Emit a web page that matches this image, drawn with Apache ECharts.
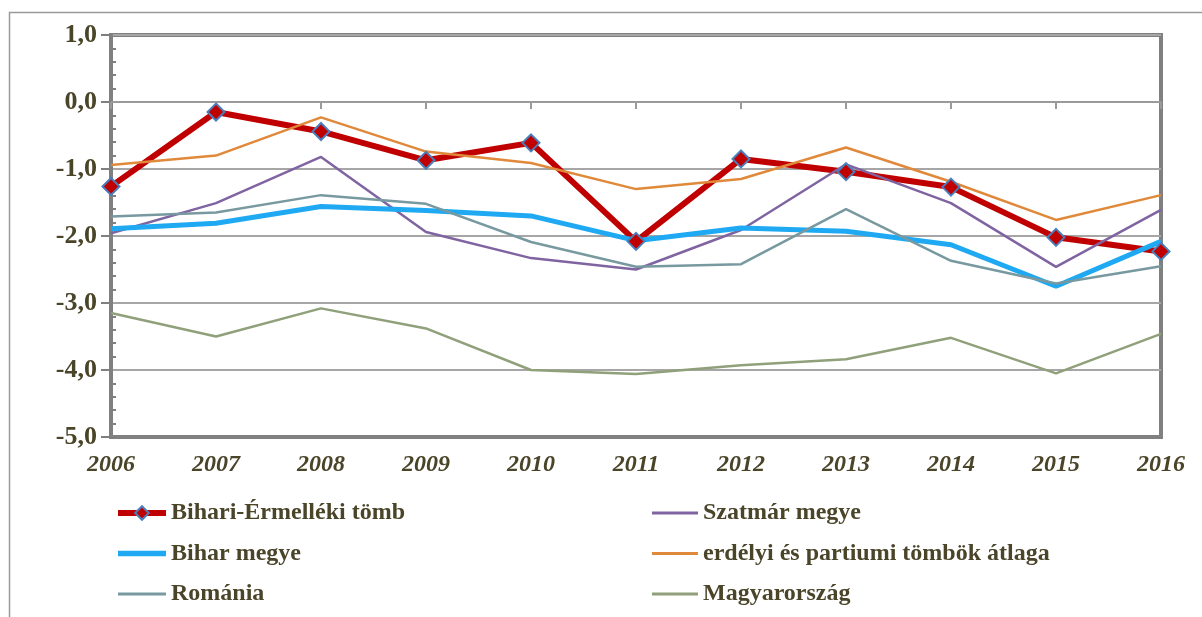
<!DOCTYPE html>
<html>
<head>
<meta charset="utf-8">
<script src="https://cdn.jsdelivr.net/npm/echarts@6/dist/echarts.min.js"></script>
<style>
html, body { margin: 0; padding: 0; background: #fff; }
#chart { width: 1202px; height: 617px; }
</style>
</head>
<body>
<div id="chart"></div>
<script>
// categories (years)
var years = ['2006', '2007', '2008', '2009', '2010', '2011', '2012', '2013', '2014', '2015', '2016'];

// series values
var bihariErmelleki = [-1.26, -0.15, -0.44, -0.87, -0.61, -2.08, -0.85, -1.04, -1.27, -2.02, -2.23];
var szatmar = [-1.96, -1.51, -0.82, -1.94, -2.33, -2.50, -1.91, -0.93, -1.51, -2.46, -1.61];
var bihar = [-1.89, -1.81, -1.56, -1.62, -1.70, -2.07, -1.88, -1.93, -2.13, -2.75, -2.08];
var erdelyiAtlag = [-0.94, -0.80, -0.23, -0.74, -0.91, -1.30, -1.15, -0.68, -1.19, -1.76, -1.39];
var romania = [-1.71, -1.65, -1.39, -1.52, -2.09, -2.46, -2.42, -1.60, -2.37, -2.71, -2.45];
var magyarorszag = [-3.15, -3.50, -3.08, -3.38, -4.00, -4.06, -3.93, -3.84, -3.52, -4.05, -3.46];

var names = ['Bihari-Érmelléki tömb', 'Szatmár megye', 'Bihar megye',
	'erdélyi és partiumi tömbök átlaga', 'Románia', 'Magyarország'];

var textColor = '#4a4429';
var fontFam = '"Liberation Serif", "DejaVu Serif", serif';

// plain line icons for the legend
var thinIcon = 'path://M0,0L48,0L48,3L0,3Z';
var thickIcon = 'path://M0,0L48,0L48,5.5L0,5.5Z';

function fmt(v) {
	return v.toFixed(1).replace('.', ',');
}

function lineSeries(name, data, color, width) {
	return {
		name: name,
		type: 'line',
		data: data,
		symbol: 'none',
		lineStyle: { color: color, width: width },
		itemStyle: { color: color },
		emphasis: { disabled: true }
	};
}

var legendText = { fontFamily: fontFam, fontWeight: 'bold', fontSize: 24, color: textColor, lineHeight: 26 };

var chart = echarts.init(document.getElementById('chart'));

var option = {
	animation: false,
	graphic: [{
		type: 'rect',
		shape: { x: 9.5, y: 12.5, width: 1220, height: 640 },
		style: { fill: 'none', stroke: '#9a9a9a', lineWidth: 1.5 },
		silent: true
	}],
	grid: {
		left: 111, right: 41, top: 35, bottom: 180,
		show: true, borderColor: '#808080', borderWidth: 4
	},
	legend: [{
		data: [
			{ name: names[0], lineStyle: { width: 6 } },
			{ name: names[2], icon: thickIcon },
			{ name: names[4], icon: thinIcon }
		],
		orient: 'vertical',
		left: 115, top: 500, padding: 0,
		itemWidth: 48, itemHeight: 17, itemGap: 14.5,
		textStyle: legendText
	}, {
		data: [{ name: names[1], icon: thinIcon }, { name: names[3], icon: thinIcon }, { name: names[5], icon: thinIcon }],
		orient: 'vertical',
		left: 652, top: 500, padding: 0,
		itemWidth: 46, itemHeight: 17, itemGap: 14.5,
		textStyle: legendText
	}],
	xAxis: [{
		type: 'category',
		data: years,
		boundaryGap: false,
		axisLine: { onZero: false, lineStyle: { color: '#808080', width: 4 } },
		axisTick: { show: false },
		axisLabel: {
			margin: 16,
			fontFamily: fontFam, fontWeight: 'bold', fontStyle: 'italic',
			fontSize: 24, color: textColor
		},
		splitLine: { show: false }
	}, {
		// crossing axis at 0 with small downward ticks
		type: 'category',
		data: years,
		boundaryGap: false,
		position: 'bottom',
		axisLine: { onZero: true, onZeroAxisIndex: 0, lineStyle: { color: '#9a9a9a', width: 2 } },
		axisTick: { show: true, length: 7, lineStyle: { color: '#9a9a9a', width: 2 } },
		axisLabel: { show: false },
		splitLine: { show: false }
	}],
	yAxis: [{
		type: 'value',
		min: -5, max: 1, interval: 1,
		axisLine: { show: true, lineStyle: { color: '#808080', width: 4 } },
		axisTick: { show: true, length: 10, lineStyle: { color: '#808080', width: 2 } },
		axisLabel: {
			margin: 14, formatter: fmt,
			fontFamily: fontFam, fontWeight: 'bold', fontSize: 26, color: textColor
		},
		splitLine: { show: true, lineStyle: { color: '#a6a6a6', width: 2 } }
	}, {
		// minor ticks pointing inward
		type: 'value',
		position: 'left',
		min: -5, max: 1, interval: 1,
		axisLine: { show: false },
		axisTick: { show: false, inside: true },
		minorTick: { show: true, splitNumber: 5, length: 5, lineStyle: { color: '#808080', width: 2 } },
		axisLabel: { show: false },
		splitLine: { show: false }
	}],
	series: [
		{
			name: names[0],
			type: 'line',
			data: bihariErmelleki,
			symbol: 'diamond',
			symbolSize: 17,
			lineStyle: { color: '#c00000', width: 6 },
			itemStyle: { color: '#c00000', borderColor: '#4a7ebb', borderWidth: 2 },
			emphasis: { disabled: true }
		},
		lineSeries(names[1], szatmar, '#8064a2', 2.5),
		lineSeries(names[2], bihar, '#1fa9f2', 5),
		lineSeries(names[3], erdelyiAtlag, '#e0893a', 2.5),
		lineSeries(names[4], romania, '#77999f', 2.5),
		lineSeries(names[5], magyarorszag, '#8fa07a', 2.5)
	]
};

chart.setOption(option);
</script>
</body>
</html>
